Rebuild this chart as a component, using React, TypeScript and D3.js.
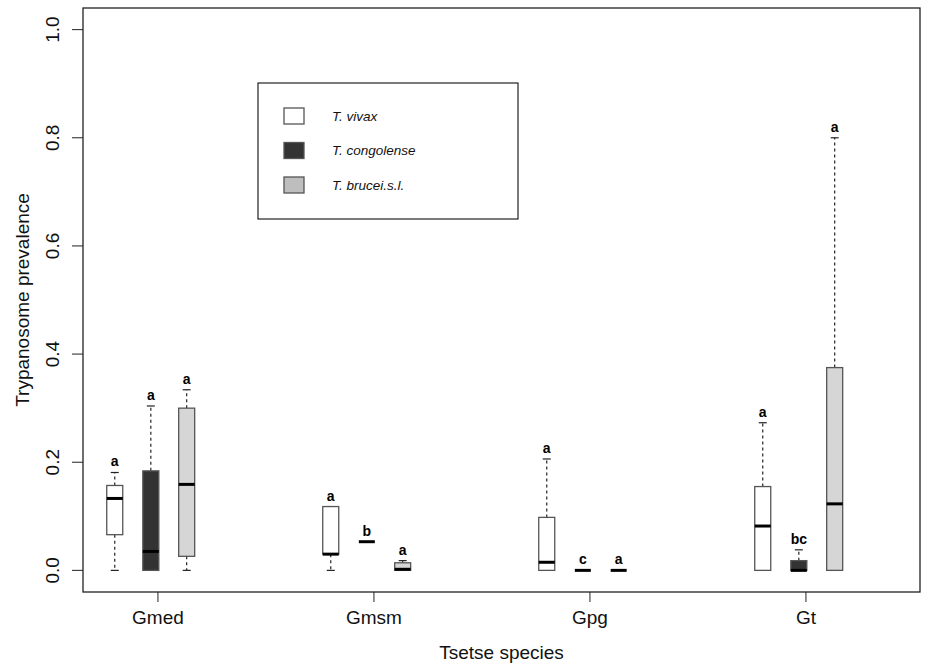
import React from "react";
import * as d3 from "d3";

const W = 930;
const H = 666;

// Tsetse species groups
const species = ["Gmed", "Gmsm", "Gpg", "Gt"];
const parasites = ["T. vivax", "T. congolense", "T. brucei.s.l."];
const fills = ["#ffffff", "#333333", "#d6d6d6"];
const legendFills = ["#ffffff", "#333333", "#bebebe"];

// Five-number summaries per species, one array per parasite: [min, q1, median, q3, max]
const vivax = [
  [0, 0.066, 0.133, 0.157, 0.181],
  [0, 0.03, 0.03, 0.118, 0.118],
  [0, 0, 0.015, 0.098, 0.206],
  [0, 0, 0.082, 0.155, 0.273],
];
const congolense = [
  [0, 0, 0.035, 0.184, 0.304],
  [0.053, 0.053, 0.053, 0.053, 0.053],
  [0, 0, 0, 0, 0],
  [0, 0, 0, 0.018, 0.038],
];
const brucei = [
  [0, 0.026, 0.159, 0.3, 0.334],
  [0, 0, 0.002, 0.014, 0.018],
  [0, 0, 0, 0, 0],
  [0, 0, 0.123, 0.375, 0.8],
];
const seriesStats = [vivax, congolense, brucei];

// Significance letters per parasite and species
const letters = [
  ["a", "a", "a", "a"],
  ["a", "b", "c", "bc"],
  ["a", "a", "a", "a"],
];

const yTicks = [0, 0.2, 0.4, 0.6, 0.8, 1.0];
const boxOffsets = [-0.2, -0.033, 0.133];

export default function App() {
  const left = 83;
  const right = 920;
  const top = 8;
  const bottom = 592;

  const x = d3.scaleLinear().domain([0.653, 4.528]).range([left, right]);
  const y = d3.scaleLinear().domain([-0.04, 1.04]).range([bottom, top]);
  const boxW = 16;
  const capW = 8;
  const font = "'Liberation Sans', Arial, sans-serif";
  const labelSize = 19;

  const boxes: React.ReactNode[] = [];
  seriesStats.forEach((stats, si) => {
    stats.forEach((s, gi) => {
      const cx = x(gi + 1 + boxOffsets[si]);
      const [mn, q1, md, q3, mx] = s;
      const key = `${si}-${gi}`;
      boxes.push(
        <g key={key}>
          {mx > q3 && (
            <line x1={cx} x2={cx} y1={y(q3)} y2={y(mx)} stroke="#222" strokeWidth={1.2} strokeDasharray="3,3" />
          )}
          {mn < q1 && (
            <line x1={cx} x2={cx} y1={y(q1)} y2={y(mn)} stroke="#222" strokeWidth={1.2} strokeDasharray="3,3" />
          )}
          <line x1={cx - capW / 2} x2={cx + capW / 2} y1={y(mx)} y2={y(mx)} stroke="#222" strokeWidth={1.2} />
          <line x1={cx - capW / 2} x2={cx + capW / 2} y1={y(mn)} y2={y(mn)} stroke="#222" strokeWidth={1.2} />
          <rect
            x={cx - boxW / 2}
            y={y(q3)}
            width={boxW}
            height={Math.max(0, y(q1) - y(q3))}
            fill={fills[si]}
            stroke="#555"
            strokeWidth={1.3}
          />
          <line x1={cx - boxW / 2} x2={cx + boxW / 2} y1={y(md)} y2={y(md)} stroke="#000" strokeWidth={3} />
          <text
            x={cx}
            y={y(mx) - 6}
            textAnchor="middle"
            fontFamily={font}
            fontWeight="bold"
            fontSize={14}
            fill="#000"
          >
            {letters[si][gi]}
          </text>
        </g>
      );
    });
  });

  return (
    <svg width={W} height={H} style={{ position: "absolute", left: 0, top: 0, background: "#fff" }}>
      <rect x={left} y={top} width={right - left} height={bottom - top} fill="none" stroke="#222" strokeWidth={1.3} />
      {yTicks.map((t) => (
        <g key={t}>
          <line x1={left - 11} x2={left} y1={y(t)} y2={y(t)} stroke="#222" strokeWidth={1} />
          <text
            transform={`translate(${left - 29},${y(t)}) rotate(-90)`}
            textAnchor="middle"
            dominantBaseline="middle"
            fontFamily={font}
            fontSize={labelSize}
            fill="#111"
          >
            {t.toFixed(1)}
          </text>
        </g>
      ))}
      {species.map((sp, i) => (
        <g key={sp}>
          <line x1={x(i + 1)} x2={x(i + 1)} y1={bottom} y2={bottom + 10} stroke="#222" strokeWidth={1} />
          <text x={x(i + 1)} y={bottom + 32} textAnchor="middle" fontFamily={font} fontSize={labelSize} fill="#111">
            {sp}
          </text>
        </g>
      ))}
      <text x={(left + right) / 2} y={659} textAnchor="middle" fontFamily={font} fontSize={labelSize} fill="#111">
        Tsetse species
      </text>
      <text
        transform={`translate(24,${(top + bottom) / 2}) rotate(-90)`}
        textAnchor="middle"
        dominantBaseline="middle"
        fontFamily={font}
        fontSize={labelSize}
        fill="#111"
      >
        Trypanosome prevalence
      </text>
      {boxes}
      <g>
        <rect x={258} y={83} width={260} height={136} fill="#fff" stroke="#222" strokeWidth={1.2} />
        {parasites.map((p, i) => (
          <g key={p}>
            <rect x={284} y={108 + i * 34.5} width={20} height={16} fill={legendFills[i]} stroke="#555" strokeWidth={1.3} />
            <text
              x={332}
              y={117 + i * 34.5}
              dominantBaseline="middle"
              fontFamily={font}
              fontStyle="italic"
              fontSize={13.5}
              fill="#111"
            >
              {p}
            </text>
          </g>
        ))}
      </g>
    </svg>
  );
}
